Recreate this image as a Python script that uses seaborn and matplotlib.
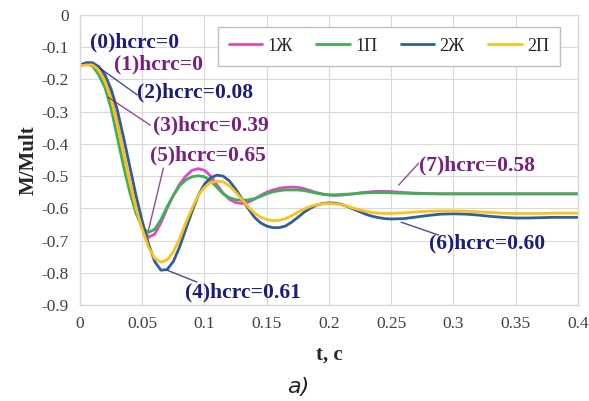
import numpy as np
import pandas as pd
import seaborn as sns
import matplotlib.pyplot as plt
from matplotlib.ticker import FuncFormatter

# time grid (s): fine steps where the response oscillates, coarser at the tail
t = [0.000, 0.005, 0.010, 0.015, 0.020, 0.025, 0.030, 0.035, 0.040, 0.045,
     0.050, 0.055, 0.060, 0.065, 0.070, 0.075, 0.080, 0.085, 0.090, 0.095,
     0.100, 0.105, 0.110, 0.115, 0.120, 0.125, 0.130, 0.135, 0.140, 0.145,
     0.150, 0.155, 0.160, 0.165, 0.170, 0.175, 0.180, 0.185, 0.190, 0.195,
     0.200, 0.205, 0.210, 0.215, 0.220, 0.225, 0.230, 0.235, 0.240, 0.245,
     0.250, 0.260, 0.270, 0.280, 0.290, 0.300, 0.310, 0.320, 0.330, 0.340,
     0.350, 0.360, 0.370, 0.380, 0.390, 0.400]

m_1zh = [-0.155, -0.150, -0.150, -0.165, -0.200, -0.255, -0.335, -0.430, -0.520, -0.600,
         -0.660, -0.690, -0.680, -0.645, -0.600, -0.560, -0.525, -0.500, -0.482, -0.477,
         -0.482, -0.500, -0.527, -0.553, -0.572, -0.582, -0.585, -0.581, -0.572, -0.560,
         -0.550, -0.543, -0.538, -0.535, -0.534, -0.535, -0.539, -0.545, -0.551, -0.556,
         -0.559, -0.560, -0.559, -0.557, -0.555, -0.552, -0.550, -0.548, -0.547, -0.547,
         -0.548, -0.551, -0.553, -0.554, -0.555, -0.555, -0.555, -0.555, -0.555, -0.555,
         -0.555, -0.555, -0.555, -0.555, -0.555, -0.555]

m_1p = [-0.155, -0.152, -0.158, -0.185, -0.225, -0.290, -0.380, -0.470, -0.550, -0.615,
        -0.660, -0.675, -0.665, -0.635, -0.595, -0.560, -0.530, -0.512, -0.502, -0.499,
        -0.502, -0.515, -0.535, -0.555, -0.567, -0.573, -0.575, -0.574, -0.570, -0.563,
        -0.555, -0.549, -0.545, -0.543, -0.543, -0.543, -0.545, -0.549, -0.553, -0.556,
        -0.558, -0.558, -0.557, -0.556, -0.555, -0.553, -0.552, -0.551, -0.551, -0.551,
        -0.552, -0.553, -0.554, -0.555, -0.555, -0.555, -0.555, -0.555, -0.555, -0.555,
        -0.555, -0.555, -0.555, -0.555, -0.555, -0.555]

m_2zh = [-0.155, -0.148, -0.148, -0.160, -0.185, -0.230, -0.295, -0.380, -0.470, -0.560,
         -0.640, -0.710, -0.765, -0.792, -0.790, -0.765, -0.720, -0.665, -0.610, -0.560,
         -0.525, -0.505, -0.497, -0.500, -0.515, -0.540, -0.570, -0.600, -0.627, -0.645,
         -0.655, -0.660, -0.660, -0.655, -0.643, -0.628, -0.612, -0.600, -0.590, -0.585,
         -0.583, -0.584, -0.588, -0.595, -0.603, -0.611, -0.619, -0.625, -0.629, -0.632,
         -0.633, -0.632, -0.627, -0.622, -0.618, -0.617, -0.618, -0.621, -0.625, -0.628,
         -0.630, -0.630, -0.629, -0.628, -0.628, -0.628]

m_2p = [-0.158, -0.155, -0.155, -0.170, -0.205, -0.260, -0.340, -0.430, -0.520, -0.600,
        -0.665, -0.720, -0.755, -0.767, -0.760, -0.735, -0.695, -0.645, -0.600, -0.560,
        -0.535, -0.520, -0.516, -0.518, -0.530, -0.550, -0.572, -0.595, -0.614, -0.627,
        -0.635, -0.638, -0.637, -0.632, -0.623, -0.612, -0.602, -0.594, -0.589, -0.586,
        -0.585, -0.586, -0.589, -0.594, -0.600, -0.605, -0.610, -0.613, -0.615, -0.616,
        -0.616, -0.614, -0.611, -0.609, -0.608, -0.608, -0.609, -0.611, -0.613, -0.615,
        -0.616, -0.616, -0.616, -0.615, -0.615, -0.615]

series = ['1Ж', '1П', '2Ж', '2П']
colors = ['#e544d2', '#3cb150', '#2f5f9a', '#fcc21b']

# annotations: text, text position (t, M/Mult), leader line (start, end) or None, colour
NAVY = '#1c1c7e'
PURPLE = '#7a1f7d'
notes = [
    ('(0)hcrc=0',    (0.008, -0.084), None, NAVY),
    ('(1)hcrc=0',    (0.027, -0.155), None, PURPLE),
    ('(2)hcrc=0.08', (0.046, -0.242), ((0.016, -0.165), (0.046, -0.248)), NAVY),
    ('(3)hcrc=0.39', (0.059, -0.342), ((0.0226, -0.255), (0.0565, -0.342)), PURPLE),
    ('(5)hcrc=0.65', (0.0565, -0.435), ((0.067, -0.475), (0.055, -0.668)), PURPLE),
    ('(4)hcrc=0.61', (0.0847, -0.860), ((0.070, -0.792), (0.094, -0.829)), NAVY),
    ('(6)hcrc=0.60', (0.280, -0.708), ((0.258, -0.643), (0.288, -0.683)), NAVY),
    ('(7)hcrc=0.58', (0.272, -0.466), ((0.256, -0.528), (0.272, -0.460)), PURPLE),
]

df = pd.DataFrame({'t': t * 4,
                   'M': m_1zh + m_1p + m_2zh + m_2p,
                   'series': np.repeat(series, len(t))})

sns.set_style('whitegrid', {'grid.color': '#d9d9d9', 'axes.edgecolor': '#d9d9d9'})
plt.rcParams['font.family'] = ['Liberation Serif', 'DejaVu Serif']
plt.rcParams['axes.unicode_minus'] = False

fig = plt.figure(figsize=(5.89, 4.01), dpi=100)
ax = fig.add_axes([0.1358, 0.2394, 0.8455, 0.7232])

sns.lineplot(data=df, x='t', y='M', hue='series', hue_order=series,
             palette=colors, linewidth=2.0, ax=ax, legend=True)

ax.set_xlim(0, 0.4)
ax.set_ylim(-0.9, 0)
ax.set_xticks(np.arange(0, 0.401, 0.05))
ax.set_yticks(np.arange(-0.9, 0.001, 0.1))
fmt = FuncFormatter(lambda v, p: '%g' % (round(v, 3) + 0.0))
ax.xaxis.set_major_formatter(fmt)
ax.yaxis.set_major_formatter(fmt)
ax.tick_params(labelsize=12.5, colors='#404040', length=0, pad=8)
for s in ax.spines.values():
    s.set_color('#d9d9d9')
    s.set_linewidth(1.0)

ax.set_xlabel('t, c', fontsize=15, fontweight='bold', labelpad=9)
ax.set_ylabel('M/Mult', fontsize=15, fontweight='bold', labelpad=2)

handles, labels = ax.get_legend_handles_labels()
leg = ax.legend(handles, labels, ncol=4, loc='upper center', bbox_to_anchor=(0.6205, 0.959),
                borderaxespad=0, fontsize=13, frameon=True, fancybox=False,
                edgecolor='#bfbfbf', framealpha=1, handlelength=1.85,
                columnspacing=1.3, handletextpad=0.3, borderpad=0.6)
leg.get_frame().set_linewidth(1.0)

for txt, xy, seg, col in notes:
    ax.text(xy[0], xy[1], txt, color=col, fontsize=15.5, fontweight='bold',
            ha='left', va='center', zorder=5)
    if seg is not None:
        ax.annotate('', xy=seg[1], xytext=seg[0],
                    arrowprops=dict(arrowstyle='-', color=col, lw=1.0, alpha=0.8,
                                    shrinkA=0, shrinkB=0), zorder=4)

fig.text(0.506, 0.035, 'a)', fontsize=16, style='italic', ha='center', va='center',
         family='DejaVu Sans', color='#222222')

fig.savefig('out.png', dpi=100)
